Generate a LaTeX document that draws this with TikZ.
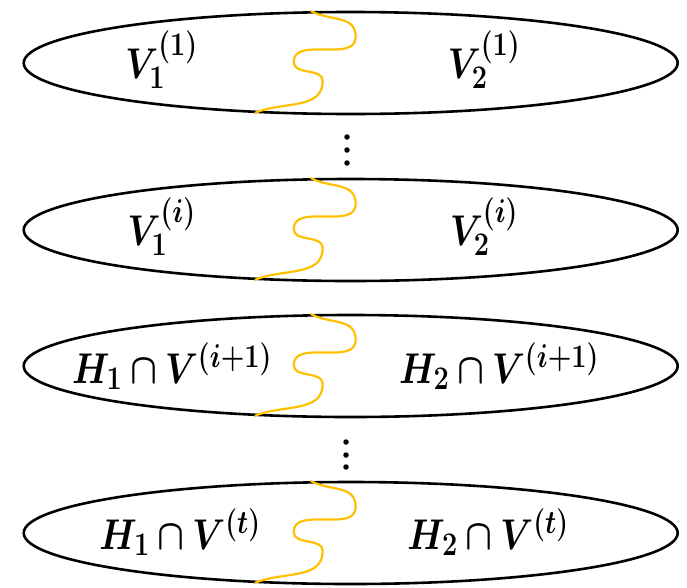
\RequirePackage{fix-cm}
\documentclass[tikz,border=0pt]{standalone}
\usepackage{amsmath,bm,graphicx}
\usetikzlibrary{shapes.geometric}
\DeclareMathSizes{43}{43}{33}{26}
\definecolor{cutcol}{HTML}{FFC000}
\newcommand\lbltext[1]{\scalebox{0.82}[1]{$\bm{#1}$}}
\tikzset{
  part/.style={draw, ellipse, line width=2.6pt, minimum width=654pt, minimum height=102pt, inner sep=0pt},
  lbl/.style={anchor=base, inner sep=0pt, font=\fontsize{43}{50}\selectfont},
  cut/.style={draw=cutcol, line width=2.2pt},
  dotn/.style={circle, fill=black, inner sep=0pt, minimum size=5.5pt},
}
\newcommand\cutcurve[1]{%
  \draw[cut] ([shift={(-40,-52)}]#1.center)
    to[out=-28,in=90,looseness=1.1] ([shift={(5,-26)}]#1.center)
    to[out=-90,in=90] ([shift={(-57,-1)}]#1.center)
    to[out=-90,in=90] ([shift={(-28,18)}]#1.center)
    to[out=-90,in=24] ([shift={(-96,50)}]#1.center);}
\begin{document}
\begin{tikzpicture}[x=1pt,y=-1pt]
\useasboundingbox (0,0) rectangle (687,587);
\node[part] (e1) at (350.7,63) {};
\node[part] (e2) at (350.7,230) {};
\node[part] (e3) at (350.7,366) {};
\node[part] (e4) at (350.7,533) {};
\cutcurve{e1}
\cutcurve{e2}
\cutcurve{e3}
\cutcurve{e4}
\node[lbl] (a1) at (161.6,78.5) {\lbltext{V_1^{(1)}}};
\node[lbl] (b1) at (484,78.5) {\lbltext{V_2^{(1)}}};
\node[lbl] (a2) at (161.6,245.5) {\lbltext{V_1^{(i)}}};
\node[lbl] (b2) at (484,245.5) {\lbltext{V_2^{(i)}}};
\node[lbl] (a3) at (172,383) {\lbltext{H_1\cap V^{(i+1)}}};
\node[lbl] (b3) at (499,383) {\lbltext{H_2\cap V^{(i+1)}}};
\node[lbl] (a4) at (180,549) {\lbltext{H_1\cap V^{(t)}}};
\node[lbl] (b4) at (488,549) {\lbltext{H_2\cap V^{(t)}}};
\node[dotn] (d1) at (347,137) {};
\node[dotn] (d2) at (347,150) {};
\node[dotn] (d3) at (347,163) {};
\node[dotn] (d4) at (346,442) {};
\node[dotn] (d5) at (346,455) {};
\node[dotn] (d6) at (346,467) {};
\end{tikzpicture}
\end{document}
